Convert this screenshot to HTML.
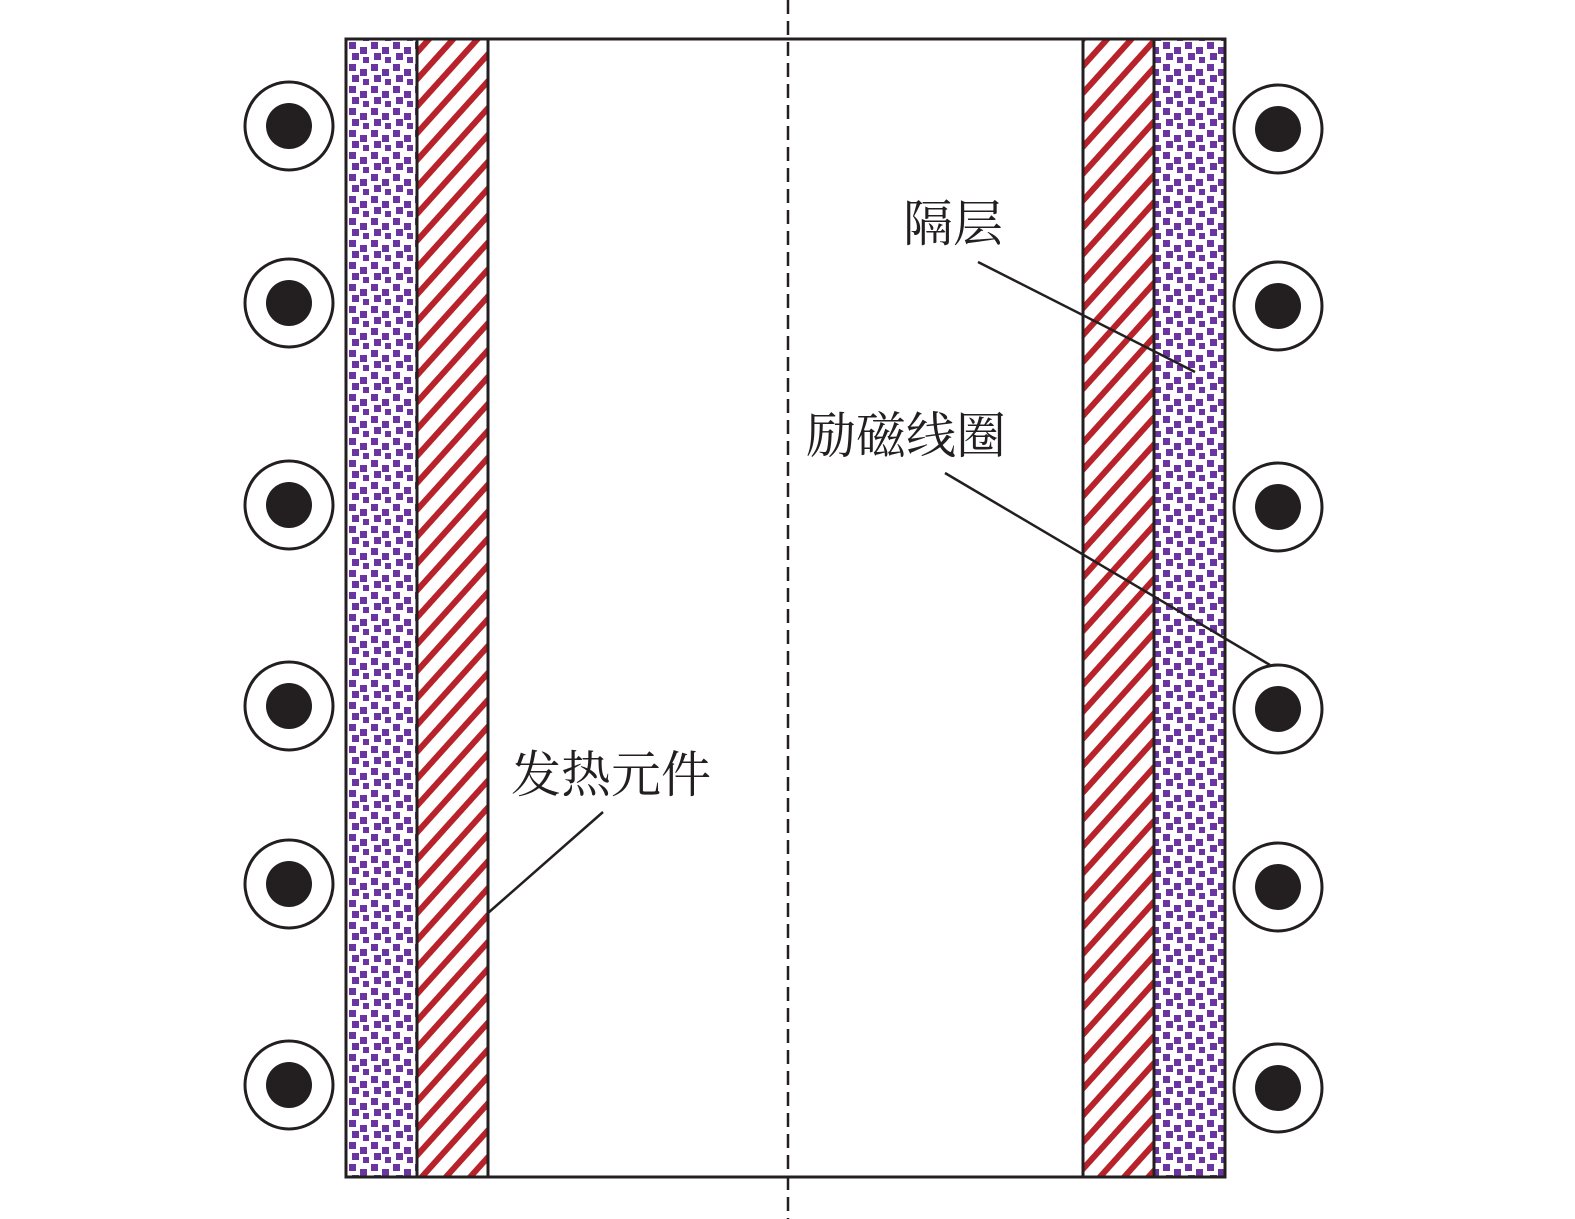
<!DOCTYPE html>
<html><head><meta charset="utf-8"><style>html,body{margin:0;padding:0;background:#fff}svg{display:block}</style></head>
<body>
<svg width="1575" height="1219" viewBox="0 0 1575 1219" xmlns="http://www.w3.org/2000/svg">
<defs>
<pattern id="sq" width="22" height="22" patternUnits="userSpaceOnUse" x="348" y="41">
<rect width="22" height="22" fill="#fff"/>
<rect x="1" y="1" width="7" height="7" fill="#6a35a0"/>
<rect x="12" y="6" width="7" height="7" fill="#6a35a0"/>
<rect x="4" y="12" width="7" height="7" fill="#6a35a0"/>
<rect x="15" y="16" width="6" height="6" fill="#6a35a0"/>
</pattern>
<pattern id="st" width="18" height="18" patternUnits="userSpaceOnUse" patternTransform="rotate(-48)">
<rect width="18" height="18" fill="#fff"/>
<rect width="18" height="6" fill="#b8222a"/>
</pattern>
</defs>
<rect x="346" y="39" width="71" height="1138" fill="url(#sq)"/>
<rect x="417" y="39" width="71" height="1138" fill="url(#st)"/>
<rect x="1083" y="39" width="71" height="1138" fill="url(#st)"/>
<rect x="1154" y="39" width="71" height="1138" fill="url(#sq)"/>
<g fill="none" stroke="#231f20" stroke-width="3">
<rect x="346" y="39" width="879" height="1138"/>
<line x1="417" y1="39" x2="417" y2="1177"/>
<line x1="488" y1="39" x2="488" y2="1177"/>
<line x1="1083" y1="39" x2="1083" y2="1177"/>
<line x1="1154" y1="39" x2="1154" y2="1177"/>
</g>
<line x1="788" y1="0" x2="788" y2="1219" stroke="#231f20" stroke-width="2.5" stroke-dasharray="14,7"/>
<g stroke="#231f20" stroke-width="3" fill="#fff">
<circle cx="289" cy="126" r="44"/><circle cx="289" cy="303" r="44"/><circle cx="289" cy="505" r="44"/>
<circle cx="289" cy="706" r="44"/><circle cx="289" cy="884" r="44"/><circle cx="289" cy="1085" r="44"/>
<circle cx="1278" cy="129" r="44"/><circle cx="1278" cy="306" r="44"/><circle cx="1278" cy="507" r="44"/>
<circle cx="1278" cy="709" r="44"/><circle cx="1278" cy="887" r="44"/><circle cx="1278" cy="1088" r="44"/>
</g>
<g fill="#231f20">
<circle cx="289" cy="126" r="23"/><circle cx="289" cy="303" r="23"/><circle cx="289" cy="505" r="23"/>
<circle cx="289" cy="706" r="23"/><circle cx="289" cy="884" r="23"/><circle cx="289" cy="1085" r="23"/>
<circle cx="1278" cy="129" r="23"/><circle cx="1278" cy="306" r="23"/><circle cx="1278" cy="507" r="23"/>
<circle cx="1278" cy="709" r="23"/><circle cx="1278" cy="887" r="23"/><circle cx="1278" cy="1088" r="23"/>
</g>
<g stroke="#231f20" stroke-width="2.5">
<line x1="978" y1="262" x2="1195" y2="372"/>
<line x1="945" y1="473" x2="1270" y2="665"/>
<line x1="603" y1="812" x2="488" y2="913"/>
</g>
<g font-family="'Liberation Serif','Noto Serif CJK SC',serif" font-size="50" fill="#231f20">
<text x="903" y="241">隔层</text>
<text x="806" y="453">励磁线圈</text>
<text x="511" y="792">发热元件</text>
</g>
</svg>
</body></html>
